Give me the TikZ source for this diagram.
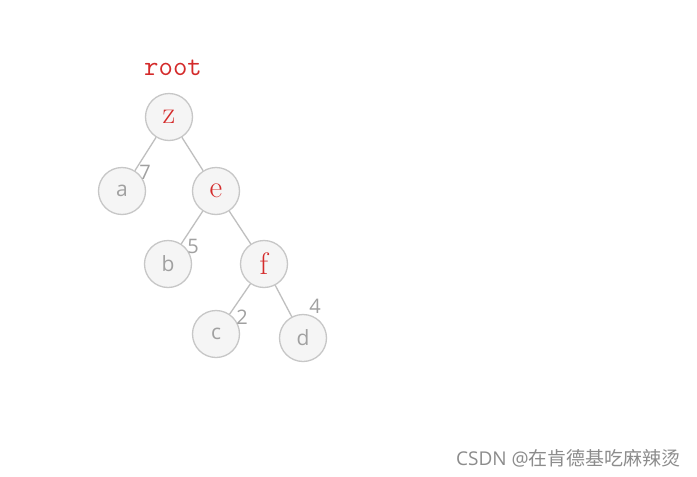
\documentclass[tikz,border=0pt]{standalone}
\usepackage{fontspec}
\setsansfont{Open Sans}
\newfontfamily\cjkf{Noto Sans CJK SC}
\definecolor{tred}{HTML}{D42A2A}
\definecolor{tgray}{HTML}{A0A0A0}
\begin{document}
\begin{tikzpicture}[x=1pt,y=-1pt,
  tnode/.style={circle,draw=black!22,fill=black!4,line width=1.3pt,minimum size=47pt,inner sep=0pt},
  rlab/.style={text=tred,font=\fontsize{31}{31}\selectfont},
  glab/.style={text=tgray,font=\sffamily\fontsize{21}{21}\selectfont},
  elab/.style={text=tgray,font=\sffamily\fontsize{20}{20}\selectfont,inner sep=0pt},
  edge/.style={draw=black!25,line width=1.3pt}]
\useasboundingbox[fill=white] (0,0) rectangle (697,477);
\node[tnode,rlab] (z) at (169,117) {z};
\node[tnode,glab] (a) at (122,191) {a};
\node[tnode,rlab] (e) at (216,191) {e};
\node[tnode,glab] (b) at (168,264) {b};
\node[tnode,rlab] (f) at (264,264) {f};
\node[tnode,glab] (c) at (216,334) {c};
\node[tnode,glab] (d) at (303,338) {d};
\draw[edge] (z) -- (a);
\draw[edge] (z) -- (e);
\draw[edge] (e) -- (b);
\draw[edge] (e) -- (f);
\draw[edge] (f) -- (c);
\draw[edge] (f) -- (d);
\node[text=tred,font=\ttfamily\fontsize{28}{28}\selectfont] (root) at (173,68) {root};
\node[elab] (l7) at (145,172) {7};
\node[elab] (l5) at (193,246) {5};
\node[elab] (l2) at (242,317) {2};
\node[elab] (l4) at (315,306) {4};
\node[text=black!45,font=\fontsize{19}{19}\selectfont,anchor=east,inner sep=0pt] (wm) at (681,458) {\sffamily CSDN @\cjkf 在肯德基吃麻辣烫};
\end{tikzpicture}
\end{document}
